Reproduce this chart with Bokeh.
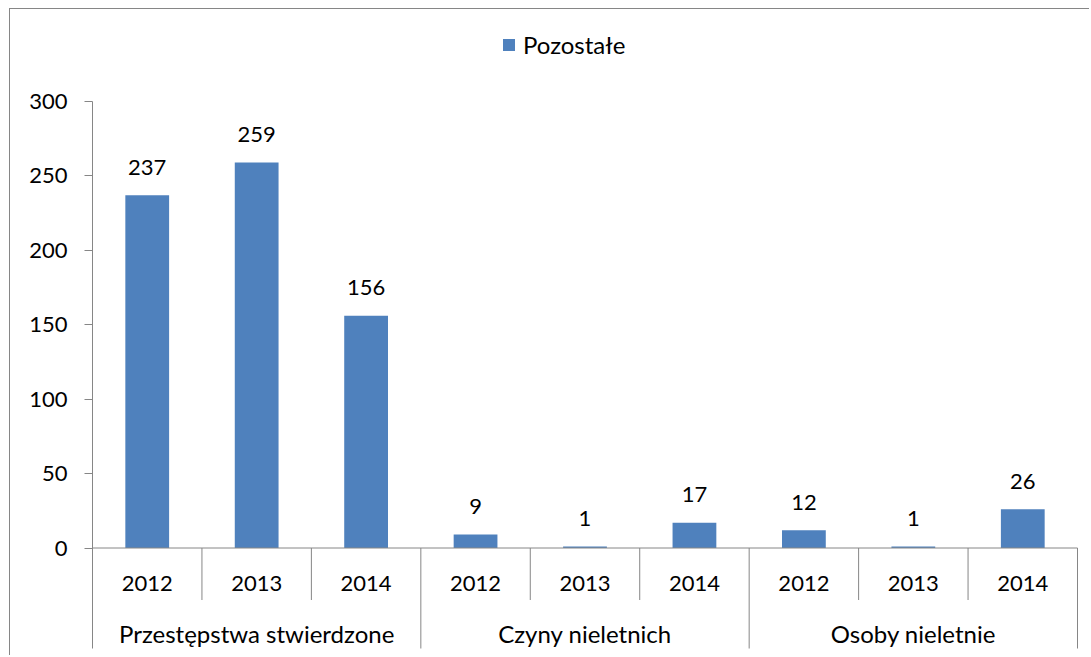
from bokeh.plotting import figure
from bokeh.models import Range1d, LinearAxis, FixedTicker, Legend, LegendItem, ColumnDataSource
from bokeh.core.properties import value
from bokeh.embed import file_html
from bokeh.resources import INLINE

# ---- data ----
groups = ["Przestępstwa stwierdzone", "Czyny nieletnich", "Osoby nieletnie"]
years = ["2012", "2013", "2014"]
series_name = "Pozostałe"
values = [237, 259, 156, 9, 1, 17, 12, 1, 26]
y_ticks = [0, 50, 100, 150, 200, 250, 300]

# ---- layout constants ----
FONT_NAME = "Lato"
FONT = value(FONT_NAME)
FS = "22px"        # digits
FS_TXT = "24px"    # words
GRAY = "#868686"
BLUE = "#4F81BD"
n = len(values)
ppu = 446.5 / 300.0          # pixels per y unit
ppc = 985.0 / n              # pixels per category
y_end = 300 + 81 / ppu       # frame top ~81px above the 300 line
y_start = -(108.5 / ppu)     # frame bottom ~108px below the 0 line
sep_bottom = -(100.5 / ppu)  # long separators end here
x_end = n + 2 / ppc

xs = [i + 0.5 for i in range(n)]
src = ColumnDataSource(dict(x=xs, top=values, lab=[str(v) for v in values],
                            year=[years[i % len(years)] for i in range(n)]))

p = figure(width=1080, height=647, output_backend="svg", toolbar_location=None,
           x_range=Range1d(0, x_end), y_range=Range1d(y_start, y_end),
           x_axis_type=None, y_axis_type=None,
           min_border_left=82, min_border_right=11, min_border_top=11, min_border_bottom=0,
           outline_line_color=None, background_fill_color="white", border_fill_color="white",
           margin=(8, 0, 0, 9),
           styles={"border-left": "1px solid #868686", "border-top": "1px solid #868686"})

yaxis = LinearAxis(ticker=FixedTicker(ticks=y_ticks), bounds=(sep_bottom, 300),
                   axis_line_color=GRAY, major_tick_line_color=GRAY,
                   major_tick_out=8, major_tick_in=0, minor_tick_line_color=None,
                   major_label_text_font=FONT_NAME, major_label_text_font_size=FS,
                   major_label_text_color="black", major_label_standoff=17)
p.add_layout(yaxis, "left")

bars = p.vbar(x="x", top="top", width=0.4, source=src, fill_color=BLUE, line_color=None)

# data labels
p.text(x="x", y="top", text="lab", source=src, text_font=FONT, text_font_size=FS,
       text_color="black", text_align="center", text_baseline="middle", y_offset=-28)

# category axis line
p.segment(x0=[0], y0=[0], x1=[n], y1=[0], line_color=GRAY, line_width=1)

# year separators (short) and group separators (long)
gsize = len(years)
short_x = [i for i in range(1, n) if i % gsize != 0]
long_x = [i for i in range(gsize, n + 1, gsize)]
p.segment(x0=short_x, y0=[0] * len(short_x), x1=short_x, y1=[-52 / ppu] * len(short_x),
          line_color=GRAY, line_width=1)
p.segment(x0=long_x, y0=[0] * len(long_x), x1=long_x, y1=[sep_bottom] * len(long_x),
          line_color=GRAY, line_width=1)

# year labels
p.text(x="x", y=0, text="year", source=src, text_font=FONT, text_font_size=FS,
       text_color="black", text_align="center", text_baseline="middle", y_offset=35)

# group labels
gx = [i * gsize + gsize / 2 for i in range(len(groups))]
p.text(x=gx, y=[0] * len(groups), text=groups, text_font=FONT, text_font_size=FS_TXT,
       text_color="black", text_align="center", text_baseline="middle", y_offset=85)

legend = Legend(items=[LegendItem(label=series_name, renderers=[bars])],
                location=(409, 597), orientation="horizontal",
                glyph_width=15, glyph_height=15, label_height=15, label_standoff=7,
                padding=0, margin=0, spacing=0, border_line_color=None,
                background_fill_alpha=0, label_text_font=FONT_NAME, label_text_font_size=FS_TXT,
                label_text_color="black", label_text_baseline="middle")
p.add_layout(legend)

open("out.html", "w").write(file_html(p, INLINE))
